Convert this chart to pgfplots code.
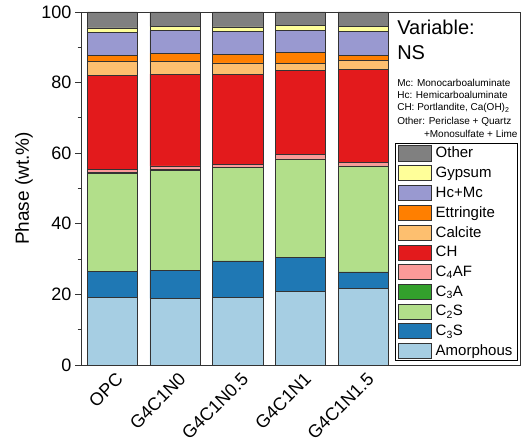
\documentclass[border=0pt]{standalone}
\usepackage{pgfplots}
\usepackage{pgfplotstable}
\usepackage{fontspec}
\setmainfont{Liberation Sans}
\pgfplotsset{compat=1.18}
\definecolor{cAm}{HTML}{A6CEE3}
\definecolor{cCthreeS}{HTML}{1F78B4}
\definecolor{cCtwoS}{HTML}{B2DF8A}
\definecolor{cCthreeA}{HTML}{33A02C}
\definecolor{cCfourAF}{HTML}{FB9A99}
\definecolor{cCH}{HTML}{E31A1C}
\definecolor{cCal}{HTML}{FDBF6F}
\definecolor{cEtt}{HTML}{FF7F00}
\definecolor{cHc}{HTML}{9999D0}
\definecolor{cGyp}{HTML}{FFFF99}
\definecolor{cOth}{HTML}{808080}
\definecolor{edge}{HTML}{333333}
\pgfplotstableread{
x Am C3S C2S C3A C4AF CH Cal Ett Hc Gyp Oth
1 19.2 7.4 27.7 0.2 0.8 26.8 3.8 1.8 6.6 1.2 4.5
2 18.9 8.0 28.2 0.2 1.1 26.0 3.5 2.4 6.5 1.1 4.1
3 19.2 10.3 26.4 0.0 1.0 25.5 3.2 2.3 6.7 1.2 4.2
4 20.9 9.6 27.9 0.0 1.3 23.7 2.1 3.1 6.2 1.3 3.9
5 21.7 4.7 30.0 0.0 1.0 26.3 2.5 1.5 6.9 1.4 4.0
}\datatable
\begin{document}
\begin{tikzpicture}
\begin{axis}[
  scale only axis,
  width=439pt, height=353pt,
  ybar stacked,
  bar width=0.8,
  xmin=0.5, xmax=7.5,
  ymin=0, ymax=100,
  ytick={0,20,...,100},
  minor y tick num=1,
  xtick={1,2,3,4,5},
  xticklabels={OPC,G4C1N0,G4C1N0.5,G4C1N1,G4C1N1.5},
  xtick style={draw=none},
  ytick pos=left,
  tick align=outside,
  major tick length=6pt,
  minor tick length=3.5pt,
  tick style={edge, line width=0.8pt},
  axis line style={edge, line width=0.8pt},
  /pgf/number format/assume math mode=true,
  yticklabel style={font=\fontsize{18}{20}\selectfont},
  xticklabel style={font=\fontsize{18}{20}\selectfont, rotate=45, anchor=north east, xshift=5pt, yshift=1pt},
  ylabel={Phase (wt.\%)},
  ylabel style={font=\fontsize{19}{21}\selectfont, at={(axis description cs:-0.130,0.5)}, anchor=center},
  every axis plot/.append style={draw=edge, line width=0.6pt},
  area legend,
  reverse legend,
  legend cell align=left,
  legend image code/.code={\draw[#1, draw=edge] (0pt,-7.6pt) rectangle (33pt,7.6pt);},
  legend style={at={(0.995,0.011)}, anchor=south east, font=\fontsize{15}{16}\selectfont,
    draw=black, line width=0.8pt, inner xsep=3pt, inner ysep=1.5pt, row sep=3.7pt,
    /tikz/every odd column/.append style={column sep=2pt}},
]
\addplot[fill=cAm] table[x=x,y=Am]{\datatable};
\addplot[fill=cCthreeS] table[x=x,y=C3S]{\datatable};
\addplot[fill=cCtwoS] table[x=x,y=C2S]{\datatable};
\addplot[fill=cCthreeA] table[x=x,y=C3A]{\datatable};
\addplot[fill=cCfourAF] table[x=x,y=C4AF]{\datatable};
\addplot[fill=cCH] table[x=x,y=CH]{\datatable};
\addplot[fill=cCal] table[x=x,y=Cal]{\datatable};
\addplot[fill=cEtt] table[x=x,y=Ett]{\datatable};
\addplot[fill=cHc] table[x=x,y=Hc]{\datatable};
\addplot[fill=cGyp] table[x=x,y=Gyp]{\datatable};
\addplot[fill=cOth] table[x=x,y=Oth]{\datatable};
\legend{Amorphous,C\textsubscript{3}S,C\textsubscript{2}S,C\textsubscript{3}A,C\textsubscript{4}AF,CH,Calcite,Ettringite,Hc+Mc,Gypsum,Other}
\node[anchor=base west, font=\fontsize{20}{22}\selectfont, inner sep=0pt] at (axis description cs:0.720,0.935) {Variable:};
\node[anchor=base west, font=\fontsize{20}{22}\selectfont, inner sep=0pt] at (axis description cs:0.720,0.865) {NS};
\node[anchor=base west, font=\fontsize{10}{11}\selectfont, inner sep=0pt] at (axis description cs:0.720,0.790) {Mc: Monocarboaluminate};
\node[anchor=base west, font=\fontsize{10}{11}\selectfont, inner sep=0pt] at (axis description cs:0.720,0.754) {Hc: Hemicarboaluminate};
\node[anchor=base west, font=\fontsize{10}{11}\selectfont, inner sep=0pt] at (axis description cs:0.720,0.720) {CH: Portlandite, Ca(OH)\textsubscript{2}};
\node[anchor=base west, font=\fontsize{10}{11}\selectfont, inner sep=0pt] at (axis description cs:0.720,0.680) {Other: Periclase + Quartz};
\node[anchor=base west, font=\fontsize{10}{11}\selectfont, inner sep=0pt] at (axis description cs:0.781,0.644) {+Monosulfate + Lime};
\end{axis}
\pgfresetboundingbox
\path[use as bounding box] ([shift={(-81pt,-78pt)}]current axis.south west) rectangle ([shift={(3pt,12pt)}]current axis.north east);
\end{tikzpicture}
\end{document}
